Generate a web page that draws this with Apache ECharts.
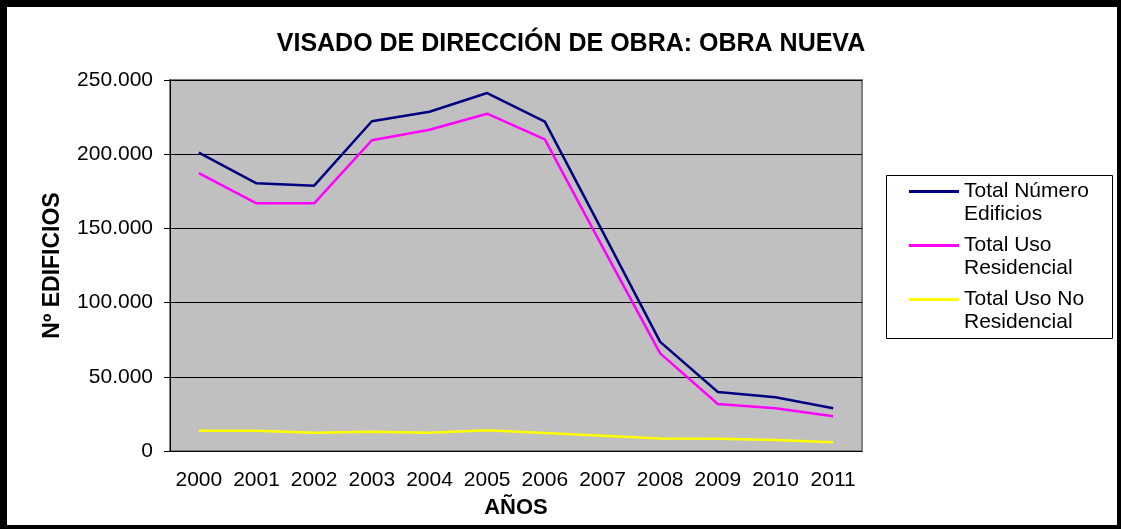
<!DOCTYPE html>
<html>
<head>
<meta charset="utf-8">
<style>
html,body{margin:0;padding:0;background:#fff;}
#main{width:1121px;height:529px;}
</style>
</head>
<body>
<div id="main"></div>
<script src="https://cdn.jsdelivr.net/npm/echarts@6/dist/echarts.min.js"></script>
<script type="text/javascript">
// datos
var years = ['2000','2001','2002','2003','2004','2005','2006','2007','2008','2009','2010','2011'];
var totalEdificios = [201000, 180400, 178800, 222200, 228600, 241200, 222000, 148000, 73500, 39800, 36200, 28800];
var usoResidencial = [187300, 166900, 166900, 209400, 216500, 227300, 210000, 137500, 65800, 31700, 28800, 23400];
var usoNoResidencial = [13700, 13700, 12300, 13000, 12300, 13900, 12100, 10300, 8500, 8300, 7400, 5900];
var seriesNames = ['Total Número\nEdificios', 'Total Uso\nResidencial', 'Total Uso No\nResidencial'];

var font = 'Arial, "Liberation Sans", sans-serif';

function miles(v) {
    return String(v).replace(/\B(?=(\d{3})+(?!\d))/g, '.');
}

var myChart = echarts.init(document.getElementById('main'));
var option = {
    backgroundColor: '#fff',
    animation: false,
    title: {
        text: 'VISADO DE DIRECCIÓN DE OBRA: OBRA NUEVA',
        left: 566,
        textAlign: 'center',
        top: 27,
        textStyle: {fontFamily: font, fontSize: 25, fontWeight: 'bold', color: '#000'}
    },
    legend: {
        data: seriesNames,
        orient: 'vertical',
        left: 909,
        top: 157,
        padding: 0,
        icon: 'rect',
        itemWidth: 50,
        itemHeight: 3,
        itemGap: -15,
        // línea en blanco delante para que el icono quede a la altura de la primera línea
        formatter: function (name) { return ' \n' + name; },
        textStyle: {fontFamily: font, fontSize: 21, color: '#000', lineHeight: 23}
    },
    grid: {
        left: 170,
        top: 80,
        width: 692,
        height: 371,
        show: true,
        backgroundColor: '#C0C0C0',
        borderColor: '#808080',
        borderWidth: 2
    },
    xAxis: {
        type: 'category',
        data: years,
        name: 'AÑOS',
        nameLocation: 'middle',
        nameGap: 46,
        nameTextStyle: {fontFamily: font, fontSize: 22, fontWeight: 'bold', color: '#000'},
        axisLine: {lineStyle: {color: '#000', width: 1}},
        axisTick: {length: 6, lineStyle: {color: '#000'}},
        axisLabel: {interval: 0, fontFamily: font, fontSize: 21, color: '#000', margin: 19}
    },
    yAxis: {
        type: 'value',
        min: 0,
        max: 250000,
        interval: 50000,
        name: 'Nº EDIFICIOS',
        nameLocation: 'middle',
        nameGap: 106,
        nameTextStyle: {fontFamily: font, fontSize: 23, fontWeight: 'bold', color: '#000'},
        axisLine: {show: true, lineStyle: {color: '#000', width: 1}},
        axisTick: {show: true, length: 6, lineStyle: {color: '#000'}},
        axisLabel: {fontFamily: font, fontSize: 21, color: '#000', margin: 17, formatter: miles},
        splitLine: {lineStyle: {color: '#000', width: 1}}
    },
    series: [
        {name: seriesNames[0], type: 'line', symbol: 'none', data: totalEdificios,
         lineStyle: {color: '#000080', width: 2.5}, itemStyle: {color: '#000080'}},
        {name: seriesNames[1], type: 'line', symbol: 'none', data: usoResidencial,
         lineStyle: {color: '#FF00FF', width: 2.5}, itemStyle: {color: '#FF00FF'}},
        {name: seriesNames[2], type: 'line', symbol: 'none', data: usoNoResidencial,
         lineStyle: {color: '#FFFF00', width: 2.5}, itemStyle: {color: '#FFFF00'}}
    ],
    graphic: [
        // marco de la leyenda
        {type: 'rect', shape: {x: 886.5, y: 175.5, width: 226, height: 163}, style: {fill: null, stroke: '#000', lineWidth: 1}, z: -1},
        // marco exterior
        {type: 'rect', shape: {x: 0, y: 0, width: 1121, height: 7}, style: {fill: '#000'}},
        {type: 'rect', shape: {x: 0, y: 0, width: 7, height: 529}, style: {fill: '#000'}},
        {type: 'rect', shape: {x: 1117, y: 0, width: 4, height: 529}, style: {fill: '#000'}},
        {type: 'rect', shape: {x: 0, y: 525, width: 1121, height: 4}, style: {fill: '#000'}}
    ]
};
myChart.setOption(option);
</script>
</body>
</html>
